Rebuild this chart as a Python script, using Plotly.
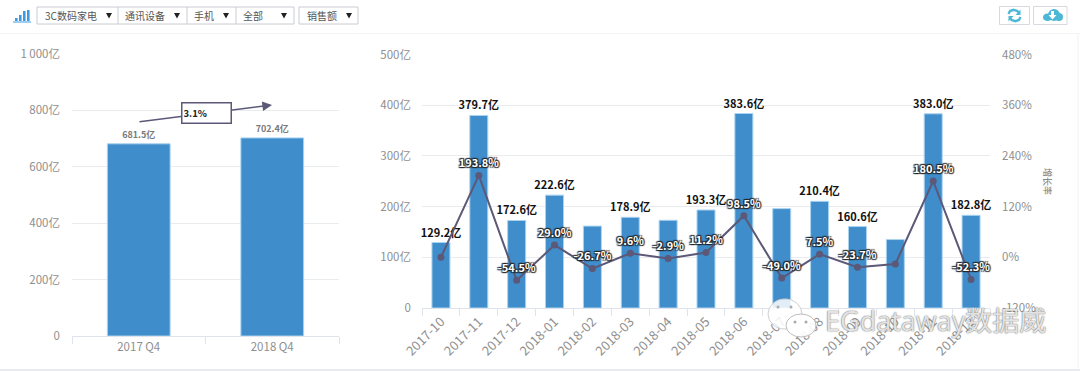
import plotly.graph_objects as go

W, H = 1080, 371
FONT = "Noto Sans CJK SC, Open Sans, sans-serif"

quarters = ["2017 Q4", "2018 Q4"]
quarter_values = [681.5, 702.4]
quarter_labels = ["681.5亿", "702.4亿"]
quarter_growth_label = "3.1%"
left_ticks = [0, 200, 400, 600, 800, 1000]
left_ticktext = ["0", "200亿", "400亿", "600亿", "800亿", "1 000亿"]

months = ["2017-10", "2017-11", "2017-12", "2018-01", "2018-02", "2018-03", "2018-04", "2018-05",
          "2018-06", "2018-07", "2018-08", "2018-09", "2018-10", "2018-11", "2018-12"]
sales = [129.2, 379.7, 172.6, 222.6, 161.5, 178.9, 173.0, 193.3, 383.6, 196.0, 210.4, 160.6, 135.0, 383.0, 182.8]
sales_labels = ["129.2亿", "379.7亿", "172.6亿", "222.6亿", "", "178.9亿", "", "193.3亿",
                "383.6亿", "", "210.4亿", "160.6亿", "", "383.0亿", "182.8亿"]
growth = [0, 193.8, -54.5, 29.0, -26.7, 9.6, -2.9, 11.2, 98.5, -49.0, 7.5, -23.7, -16.0, 180.5, -52.3]
growth_labels = ["", "193.8%", "-54.5%", "29.0%", "-26.7%", "9.6%", "-2.9%", "11.2%", "98.5%",
                 "-49.0%", "7.5%", "-23.7%", "", "180.5%", "-52.3%"]
right_ticks = [0, 100, 200, 300, 400, 500]
right_ticktext = ["0", "100亿", "200亿", "300亿", "400亿", "500亿"]
rate_ticks = [-120, 0, 120, 240, 360, 480]
rate_ticktext = ["-120%", "0%", "120%", "240%", "360%", "480%"]
menu_items = ["3C数码家电", "通讯设备", "手机", "全部", "销售额"]

BAR = "#3f8dcb"
EDGE = "#a9d3f0"
LINE = "#5b5878"
GRID = "#e9ebee"
AXIS = "#dfe3ee"
TICK = "#8f8f8f"


def fx(x):
    return x / W


def fy(y):
    return 1 - y / H


def pth(points, close=False):
    s = "M" + " L".join(f"{fx(x):.5f},{fy(y):.5f}" for x, y in points)
    return s + (" Z" if close else "")


fig = go.Figure()
fig.add_bar(x=quarters, y=quarter_values, xaxis="x", yaxis="y", width=0.47,
            marker=dict(color=BAR, line=dict(color=EDGE, width=1)),
            text=quarter_labels, textposition="outside", cliponaxis=False, constraintext="none",
            textfont=dict(size=9, color="#7a7a7a", family=FONT, weight=700))
fig.add_bar(x=months, y=sales, xaxis="x2", yaxis="y2", width=0.475,
            marker=dict(color=BAR, line=dict(color=EDGE, width=1)),
            text=sales_labels, textposition="outside", cliponaxis=False, constraintext="none",
            textfont=dict(size=11, color="#111111", family=FONT, weight=700, shadow="0 0 2px #fff"))
fig.add_scatter(x=months, y=growth, xaxis="x2", yaxis="y3", mode="lines+markers+text",
                line=dict(color=LINE, width=2), marker=dict(color=LINE, size=7),
                text=growth_labels, textposition="top center", cliponaxis=False,
                textfont=dict(size=11, color="#ffffff", family=FONT, weight=700,
                              shadow="1px 1px 1px #222, -1px -1px 1px #222, 1px -1px 1px #222, -1px 1px 1px #222"))

tickfont = dict(size=11.5, color=TICK, family=FONT)
common_y = dict(showline=False, zeroline=False, ticks="", gridcolor=GRID, gridwidth=1, tickfont=tickfont)
common_x = dict(type="category", showline=True, linecolor=AXIS, ticks="outside", ticklen=7, tickcolor=AXIS,
                tickson="boundaries", showgrid=False)

shapes = [
    dict(type="line", xref="paper", yref="paper", x0=0, x1=1, y0=fy(33.5), y1=fy(33.5), line=dict(color="#f3f4f6", width=1)),
    dict(type="line", xref="paper", yref="paper", x0=0, x1=1, y0=fy(370), y1=fy(370), line=dict(color="#e8eaee", width=2)),
    dict(type="line", xref="paper", yref="paper", x0=fx(1078), x1=fx(1078), y0=fy(34), y1=fy(370), line=dict(color="#f0f1f4", width=1)),
]


def box(x0, y0, x1, y1, color="#c8ccd2", fill="#ffffff", width=1):
    shapes.append(dict(type="rect", xref="paper", yref="paper", x0=fx(x0), x1=fx(x1), y0=fy(y0), y1=fy(y1),
                       line=dict(color=color, width=width), fillcolor=fill))


annotations = []


def note(x, y, text, size=10, color="#555555", **kw):
    font = dict(size=size, color=color, family=FONT)
    font.update(kw.pop("font", {}))
    annotations.append(dict(xref="paper", yref="paper", x=fx(x), y=fy(y), text=text, showarrow=False,
                            font=font, xanchor=kw.pop("xanchor", "left"), yanchor="middle", **kw))


# toolbar
box(37, 7, 294, 24)
box(299, 7, 358, 24)
for sep in (118, 187, 236):
    shapes.append(dict(type="line", xref="paper", yref="paper", x0=fx(sep), x1=fx(sep), y0=fy(7), y1=fy(24),
                       line=dict(color="#c8ccd2", width=1)))
for label, tx, ax in zip(menu_items, (43, 123, 192, 241, 305), (109, 177, 226, 284, 349)):
    note(tx, 15.5, label, size=10)
    shapes.append(dict(type="path", xref="paper", yref="paper", fillcolor="#222222", line=dict(width=0),
                       path=pth([(ax - 3, 13), (ax + 3, 13), (ax, 18.5)], True)))
for bx, by in ((15, 18), (19, 15), (23, 11), (27, 10)):
    shapes.append(dict(type="rect", xref="paper", yref="paper", x0=fx(bx), x1=fx(bx + 2.6), y0=fy(21), y1=fy(by),
                       fillcolor="#3f9be0", line=dict(width=0)))
shapes.append(dict(type="line", xref="paper", yref="paper", x0=fx(13), x1=fx(31), y0=fy(22), y1=fy(22),
                   line=dict(color="#3f9be0", width=1)))

# right buttons
box(999.5, 6.5, 1029.5, 24.5, color="#d6dade")
box(1033.5, 6.5, 1067, 24.5, color="#d6dade")
ICON = "#4db8d6"
shapes.append(dict(type="path", xref="paper", yref="paper", line=dict(color=ICON, width=2.4),
                   path=pth([(1008.5, 14), (1010, 11), (1013.5, 9.8), (1017, 10.8), (1019.5, 13)])))
shapes.append(dict(type="path", xref="paper", yref="paper", line=dict(color=ICON, width=2.4),
                   path=pth([(1020.5, 17), (1019, 20), (1015.5, 21.2), (1012, 20.2), (1009.5, 18)])))
shapes.append(dict(type="path", xref="paper", yref="paper", fillcolor=ICON, line=dict(width=0),
                   path=pth([(1020.5, 9.5), (1020.5, 15), (1015.5, 15)], True)))
shapes.append(dict(type="path", xref="paper", yref="paper", fillcolor=ICON, line=dict(width=0),
                   path=pth([(1008.5, 21.5), (1008.5, 16), (1013.5, 16)], True)))
for cx0, cy0, cx1, cy1 in ((1043, 13.5, 1052, 21), (1048, 9, 1060, 21), (1055, 13, 1063, 21)):
    shapes.append(dict(type="circle", xref="paper", yref="paper", x0=fx(cx0), x1=fx(cx1), y0=fy(cy0), y1=fy(cy1),
                       fillcolor=ICON, line=dict(width=0)))
shapes.append(dict(type="path", xref="paper", yref="paper", fillcolor="#ffffff", line=dict(width=0),
                   path=pth([(1051, 11), (1054, 11), (1054, 15), (1056.5, 15), (1052.5, 19.5), (1048.5, 15), (1051, 15)], True)))

# watermark bubbles
shapes.append(dict(type="circle", xref="paper", yref="paper", x0=fx(768), x1=fx(802), y0=fy(299), y1=fy(329),
                   fillcolor="rgba(255,255,255,0.85)", line=dict(color="#cfcfcf", width=1)))
shapes.append(dict(type="circle", xref="paper", yref="paper", x0=fx(786), x1=fx(816), y0=fy(314), y1=fy(337),
                   fillcolor="rgba(255,255,255,0.9)", line=dict(color="#bdbdbd", width=1)))
for dx, dy in ((778, 307), (791, 307), (795, 322), (806, 322)):
    shapes.append(dict(type="circle", xref="paper", yref="paper", x0=fx(dx - 1.5), x1=fx(dx + 1.5), y0=fy(dy - 1.5), y1=fy(dy + 1.5),
                       fillcolor="#aaaaaa", line=dict(width=0)))

# growth arrow on the left chart
annotations.append(dict(xref="paper", yref="paper", x=fx(272), y=fy(105), ax=-134, ay=17, axref="pixel", ayref="pixel",
                        text="", showarrow=True, arrowhead=2, arrowsize=1.2, arrowwidth=1.6, arrowcolor=LINE))
note(206.5, 112.5, quarter_growth_label, size=9.5, color="#222222", xanchor="center", font=dict(weight=700),
     bgcolor="#ffffff", bordercolor=LINE, borderwidth=1.5, width=46, height=17, align="left")
note(1047, 181, "增长率", size=9, color="#777777", xanchor="center", textangle=90)
note(823, 320, "EGdataway数据威", size=27, color="rgba(255,255,255,0.82)",
     font=dict(shadow="0 0 1.5px #555, 0 0 1px #777", family="Open Sans, Noto Sans CJK SC"))

fig.update_layout(
    width=W, height=H, margin=dict(l=0, r=0, t=0, b=0, autoexpand=False), autosize=False, showlegend=False, bargap=0.5,
    plot_bgcolor="#ffffff", paper_bgcolor="#ffffff", font=dict(family=FONT),
    xaxis=dict(domain=[fx(72), fx(339)], anchor="y", range=[-0.5, 1.5], tickfont=tickfont, **common_x),
    yaxis=dict(domain=[fy(336), fy(54)], anchor="x", range=[0, 1000], tickvals=left_ticks, ticktext=left_ticktext,
               ticklabelstandoff=11, **common_y),
    xaxis2=dict(domain=[fx(422), fx(990)], anchor="y2", tickangle=-45, range=[-0.5, 14.5],
                tickfont=dict(size=13, color=TICK, family=FONT), **common_x),
    yaxis2=dict(domain=[fy(308), fy(54.5)], anchor="x2", range=[0, 500], tickvals=right_ticks, ticktext=right_ticktext,
                ticklabelstandoff=10, **common_y),
    yaxis3=dict(domain=[fy(308), fy(54.5)], anchor="x2", overlaying="y2", side="right", range=[-120, 480],
                tickvals=rate_ticks, ticktext=rate_ticktext, showgrid=False, ticklabelstandoff=11,
                showline=False, zeroline=False, ticks="", tickfont=tickfont),
    shapes=shapes, annotations=annotations,
)

fig.write_html("out.html", config={"displayModeBar": False},
               post_script="document.body.style.margin='0';document.body.style.overflow='hidden';")
